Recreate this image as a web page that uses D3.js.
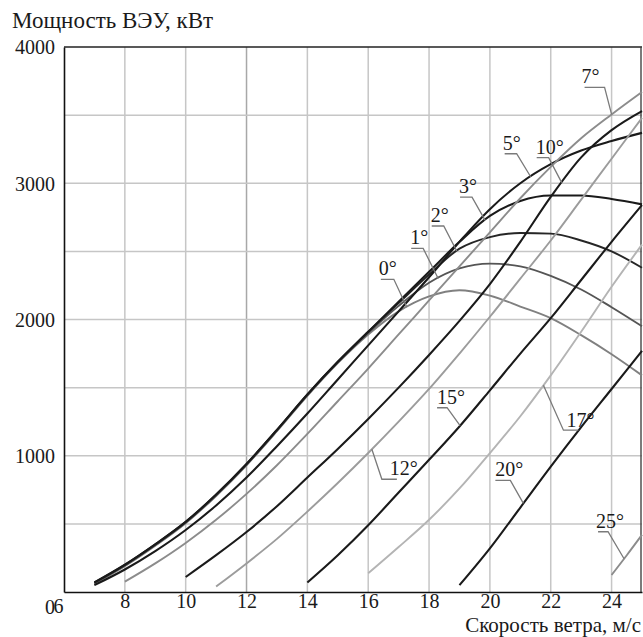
<!DOCTYPE html>
<html>
<head>
<meta charset="utf-8">
<script src="https://cdn.jsdelivr.net/npm/d3@7"></script>
<style>
    body { margin: 0; background: #fff; }
    svg text { font-family: "Liberation Serif", "Times New Roman", serif; fill: #1a1a1a; }
</style>
</head>
<body>
<div id="okvir"></div>
<script>
// skorosti vetra (m/s) i moshchnost (kVt) dlya kazhdogo ugla
const speeds7  = [7, 8, 9, 10, 11, 12, 13, 14, 15, 16, 17, 18, 19, 20, 21, 22, 23, 24, 25];
const speeds8  = [8, 9, 10, 11, 12, 13, 14, 15, 16, 17, 18, 19, 20, 21, 22, 23, 24, 25];
const speeds10 = [10, 11, 12, 13, 14, 15, 16, 17, 18, 19, 20, 21, 22, 23, 24, 25];
const speeds11 = [11, 12, 13, 14, 15, 16, 17, 18, 19, 20, 21, 22, 23, 24, 25];
const speeds14 = [14, 15, 16, 17, 18, 19, 20, 21, 22, 23, 24, 25];
const speeds16 = [16, 17, 18, 19, 20, 21, 22, 23, 24, 25];
const speeds19 = [19, 20, 21, 22, 23, 24, 25];
const speeds24 = [24, 24.5, 25];

const power0  = [60, 190, 340, 505, 705, 930, 1180, 1440, 1680, 1890, 2060, 2170, 2215, 2175, 2095, 2010, 1885, 1745, 1590];
const power1  = [65, 195, 345, 510, 710, 935, 1185, 1445, 1685, 1900, 2100, 2270, 2375, 2410, 2390, 2320, 2220, 2090, 1950];
const power2  = [70, 200, 350, 515, 715, 940, 1190, 1450, 1690, 1910, 2120, 2330, 2520, 2605, 2635, 2630, 2580, 2500, 2380];
const power3  = [70, 200, 350, 515, 715, 940, 1190, 1450, 1690, 1910, 2130, 2350, 2570, 2760, 2870, 2910, 2910, 2885, 2845];
const power5  = [50, 165, 300, 455, 635, 840, 1070, 1310, 1560, 1810, 2060, 2310, 2570, 2810, 3000, 3140, 3240, 3310, 3370];
const power7  = [76, 210, 360, 530, 720, 930, 1160, 1400, 1640, 1890, 2140, 2390, 2640, 2890, 3120, 3330, 3505, 3670];
const power10 = [110, 270, 440, 630, 840, 1050, 1270, 1500, 1740, 1990, 2260, 2570, 2900, 3190, 3390, 3530];
const power12 = [40, 210, 390, 590, 800, 1020, 1250, 1490, 1750, 2020, 2300, 2580, 2880, 3180, 3480];
const power15 = [70, 270, 490, 730, 970, 1215, 1480, 1750, 2010, 2290, 2570, 2840];
const power17 = [137, 330, 530, 760, 1020, 1290, 1590, 1910, 2240, 2550];
const power20 = [50, 320, 620, 920, 1210, 1490, 1770];
const power25 = [125, 270, 420];

const angles = ["0°", "1°", "2°", "3°", "5°", "7°", "10°", "12°", "15°", "17°", "20°", "25°"];
const xTicks = [6, 8, 10, 12, 14, 16, 18, 20, 22, 24];
const yTicks = [0, 1000, 2000, 3000, 4000];
const xGrid = [8, 10, 12, 14, 16, 18, 20, 22, 24];
const yGrid = [500, 1000, 1500, 2000, 2500, 3000, 3500];

// gde vynoska kasaetsya krivoy (skorost)
const labelAt = [17.27, 18.3, 18.91, 19.84, 21.34, 24.0, 22.36, 16.12, 19.02, 21.76, 21.1, 24.41];

const serije = [
    [speeds7, power0], [speeds7, power1], [speeds7, power2], [speeds7, power3],
    [speeds7, power5], [speeds8, power7], [speeds10, power10], [speeds11, power12],
    [speeds14, power15], [speeds16, power17], [speeds19, power20], [speeds24, power25]
].map((s, i) => ({
    angle: angles[i],
    points: s[0].map((v, j) => ({v: v, p: s[1][j]})),
    interp: d3.scaleLinear().domain(s[0]).range(s[1]),
    at: labelAt[i]
}));

const boje = {
    "0°": "#808080", "1°": "#555", "2°": "#262626", "3°": "#1a1a1a", "5°": "#1a1a1a",
    "7°": "#8c8c8c", "10°": "#1a1a1a", "12°": "#9c9c9c", "15°": "#1a1a1a",
    "17°": "#b4b4b4", "20°": "#1a1a1a", "25°": "#8c8c8c"
};

// vynoski: smeshchenie izloma, dlina podcherkivaniya, smeshchenie teksta
const vynoski = {
    "0°":  [-13, -28, -13, -15, -4],
    "1°":  [-15, -30, -12, -13, -4],
    "2°":  [-13, -25, -12, -13, -4],
    "3°":  [-13, -23, -12, -13, -4],
    "5°":  [-14, -23, -12, -14, -4],
    "10°": [-13, -25, -12, -13, -4],
    "7°":  [-7, -27, -20, -23, -4],
    "12°": [10, 30, 15, 8, -4],
    "15°": [-13, -18, -10, -10, -4],
    "17°": [20, 45, 15, 3, -3],
    "20°": [-13, -23, -15, -15, -4],
    "25°": [-16, -27, -10, -12, -4]
};

const dim = {sirina: 643, visina: 637, left: 64, right: 642, top: 47, bottom: 592};

const svg = d3.select("#okvir")
    .append("svg")
        .attr("width", dim.sirina)
        .attr("height", dim.visina);

const xSkala = d3.scaleLinear().domain([6, 25]).range([dim.left, dim.right]);
const ySkala = d3.scaleLinear().domain([0, 4000]).range([dim.bottom, dim.top]);

// setka
svg.append("g").selectAll("line").data(xGrid).join("line")
    .attr("x1", d => xSkala(d)).attr("x2", d => xSkala(d))
    .attr("y1", dim.top).attr("y2", dim.bottom)
    .attr("stroke", d => d === 12 ? "#a8a8a8" : "#c6c6c6")
    .attr("stroke-width", 1.5);

svg.append("g").selectAll("line").data(yGrid).join("line")
    .attr("x1", dim.left).attr("x2", dim.right)
    .attr("y1", d => ySkala(d)).attr("y2", d => ySkala(d))
    .attr("stroke", "#c6c6c6")
    .attr("stroke-width", 1.5);

// ramka sverhu i sprava
svg.append("line")
    .attr("x1", dim.left).attr("x2", dim.right)
    .attr("y1", ySkala(4000)).attr("y2", ySkala(4000))
    .attr("stroke", "#222").attr("stroke-width", 1.6);
svg.append("line")
    .attr("x1", dim.right - 1).attr("x2", dim.right - 1)
    .attr("y1", dim.top).attr("y2", dim.bottom)
    .attr("stroke", "#444").attr("stroke-width", 1.4);

// krivye
const liniya = d3.line()
    .x(d => xSkala(d.v))
    .y(d => ySkala(d.p))
    .curve(d3.curveMonotoneX);

svg.append("g").selectAll("path").data(serije).join("path")
    .attr("d", d => liniya(d.points))
    .attr("fill", "none")
    .attr("stroke", d => boje[d.angle])
    .attr("stroke-width", d => boje[d.angle] === "#1a1a1a" ? 2.1 : 1.9)
    .attr("stroke-linejoin", "round");

// osi
const yOs = svg.append("g")
    .attr("transform", `translate(${dim.left},0)`)
    .call(d3.axisLeft(ySkala).tickValues(yTicks).tickFormat(d3.format("d")).tickSize(0).tickPadding(9));
yOs.select(".domain").attr("stroke", "#111").attr("stroke-width", 1.6);
yOs.selectAll("text")
    .style("font-size", "20px")
    .attr("fill", "#1a1a1a")
    .attr("dy", d => d === 0 ? "1.05em" : "0.34em");

const xOs = svg.append("g")
    .attr("transform", `translate(0,${dim.bottom})`)
    .call(d3.axisBottom(xSkala).tickValues(xTicks).tickFormat(d3.format("d")).tickSize(0).tickPadding(2));
xOs.select(".domain").attr("stroke", "#111").attr("stroke-width", 1.6);
xOs.selectAll("text")
    .style("font-size", "20px")
    .attr("fill", "#1a1a1a")
    .attr("dx", d => d === 6 ? -6 : 0)
    .attr("dy", d => d === 6 ? "0.95em" : "0.71em");

svg.append("text")
    .attr("x", 12)
    .attr("y", 28)
    .style("font-size", "23px")
    .text("Мощность ВЭУ, кВт");

svg.append("text")
    .attr("x", 641)
    .attr("y", 632)
    .attr("text-anchor", "end")
    .style("font-size", "21px")
    .text("Скорость ветра, м/с");

// podpisi uglov s vynoskami
const podpisi = svg.append("g");
serije.forEach(s => {
    const o = vynoski[s.angle];
    const tx = xSkala(s.at);
    const ty = ySkala(s.interp(s.at));
    const cx = tx + o[0];
    const cy = ty + o[1];
    podpisi.append("polyline")
        .attr("points", `${tx},${ty} ${cx},${cy} ${cx + o[2]},${cy}`)
        .attr("fill", "none")
        .attr("stroke", "#7a7a7a")
        .attr("stroke-width", 1.3);
    podpisi.append("text")
        .attr("x", cx + o[3])
        .attr("y", cy + o[4])
        .style("font-size", "20px")
        .text(s.angle);
});
</script>
</body>
</html>
